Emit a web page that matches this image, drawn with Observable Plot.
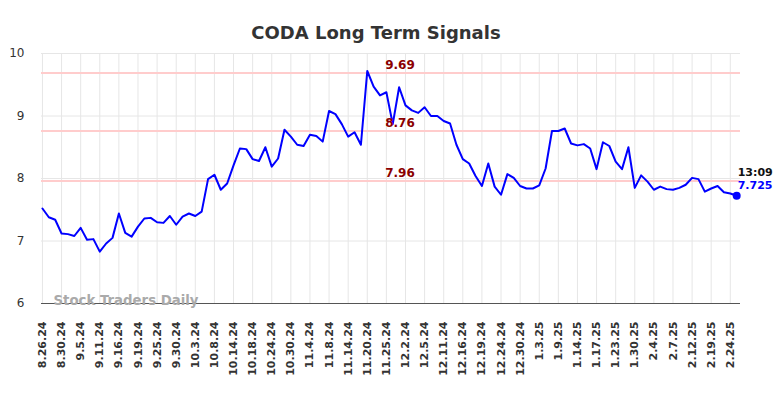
<!DOCTYPE html>
<html>
<head>
<meta charset="utf-8">
<script src="https://cdn.jsdelivr.net/npm/d3@7"></script>
<script src="https://cdn.jsdelivr.net/npm/@observablehq/plot@0.6"></script>
<style>
  html, body { margin: 0; padding: 0; background: #fff; }
  #chart { width: 784px; height: 398px; }
</style>
</head>
<body>
<div id="chart"></div>
<script>
const title = "CODA Long Term Signals";
const watermark = "Stock Traders Daily";
const lastTime = "13:09";

const values = [
  7.52, 7.38, 7.34, 7.12, 7.11, 7.08, 7.21, 7.02, 7.03, 6.83,
  6.96, 7.05, 7.44, 7.13, 7.07, 7.23, 7.36, 7.37, 7.30, 7.29,
  7.40, 7.26, 7.39, 7.44, 7.40, 7.47, 7.99, 8.06, 7.82, 7.92,
  8.21, 8.48, 8.47, 8.31, 8.28, 8.50, 8.19, 8.32, 8.78, 8.67,
  8.54, 8.52, 8.70, 8.68, 8.59, 9.08, 9.03, 8.87, 8.67, 8.74,
  8.54, 9.72, 9.47, 9.33, 9.38, 8.87, 9.46, 9.17, 9.09, 9.05,
  9.14, 9.00, 9.00, 8.92, 8.88, 8.54, 8.31, 8.24, 8.04, 7.88,
  8.24, 7.87, 7.74, 8.07, 8.01, 7.88, 7.84, 7.84, 7.89, 8.16,
  8.76, 8.76, 8.80, 8.56, 8.53, 8.55, 8.48, 8.15, 8.58, 8.52,
  8.27, 8.15, 8.50, 7.85, 8.05, 7.95, 7.82, 7.87, 7.83, 7.82,
  7.85, 7.90, 8.01, 7.99, 7.79, 7.84, 7.88, 7.78, 7.76, 7.725
];

const tickLabels = [
  "8.26.24", "8.30.24", "9.5.24", "9.11.24", "9.16.24", "9.19.24", "9.25.24",
  "9.30.24", "10.3.24", "10.8.24", "10.14.24", "10.18.24", "10.24.24", "10.30.24",
  "11.4.24", "11.8.24", "11.14.24", "11.20.24", "11.25.24", "12.2.24", "12.5.24",
  "12.11.24", "12.16.24", "12.19.24", "12.24.24", "12.30.24", "1.3.25", "1.9.25",
  "1.14.25", "1.17.25", "1.23.25", "1.30.25", "2.4.25", "2.7.25", "2.12.25",
  "2.19.25", "2.24.25"
];
const tickStep = 3;

const yTicks = [6, 7, 8, 9, 10];
const levels = [9.69, 8.76, 7.96];

const data = values.map((v, i) => ({i, v}));
const last = data[data.length - 1];
const tickIdx = tickLabels.map((_, k) => k * tickStep);

const chart = Plot.plot({
  width: 784,
  height: 398,
  marginTop: 53,
  marginBottom: 95,
  marginLeft: 41,
  marginRight: 44,
  style: {fontFamily: "DejaVu Sans", background: "#fff", overflow: "visible"},
  x: {domain: [-0.15, 109.6], axis: null, label: null},
  y: {domain: [6, 10], axis: null, label: null},
  marks: [
    Plot.gridY(yTicks.slice(1), {stroke: "#e6e6e6", strokeOpacity: 1, strokeWidth: 1}),
    Plot.gridX(tickIdx, {stroke: "#e6e6e6", strokeOpacity: 1, strokeWidth: 1}),
    Plot.ruleY(levels, {stroke: "#ffcccc", strokeWidth: 2}),
    Plot.ruleY([yTicks[0]], {stroke: "#555", strokeWidth: 1}),
    Plot.axisY(yTicks, {
      tickSize: 0, tickPadding: 17, fontSize: 12, fill: "#333",
      tickFormat: d => String(d), label: null
    }),
    Plot.axisX(tickIdx, {
      tickSize: 0, tickRotate: -90, tickPadding: 18,
      tickFormat: d => tickLabels[d / tickStep], label: null,
      fontSize: 11, fontWeight: "bold", fill: "#333"
    }),
    Plot.text([watermark], {
      frameAnchor: "bottom-left", dx: 12, dy: 1, textAnchor: "start",
      fontSize: 13.3, fontWeight: "bold", fill: "#aaa"
    }),
    Plot.lineY(data, {x: "i", y: "v", stroke: "#0000ff", strokeWidth: 2}),
    Plot.dot([last], {x: "i", y: "v", r: 4, fill: "#0000ff"}),
    Plot.text(levels, {
      y: d => d, frameAnchor: "middle", dx: 9, dy: -8,
      text: d => d.toFixed(2), fill: "#8b0000", fontWeight: "bold", fontSize: 12
    }),
    Plot.text([last], {
      x: "i", y: "v", text: () => lastTime, dx: 1, dy: -23, textAnchor: "start",
      fill: "#111", fontWeight: "bold", fontSize: 11
    }),
    Plot.text([last], {
      x: "i", y: "v", text: d => d.v.toFixed(3), dx: 1, dy: -10, textAnchor: "start",
      fill: "#0000ff", fontWeight: "bold", fontSize: 11
    }),
    Plot.text([title], {
      frameAnchor: "top", dx: -15, dy: -27,
      fontSize: 18, fontWeight: "bold", fill: "#333"
    })
  ]
});
document.getElementById("chart").appendChild(chart);
</script>
</body>
</html>
